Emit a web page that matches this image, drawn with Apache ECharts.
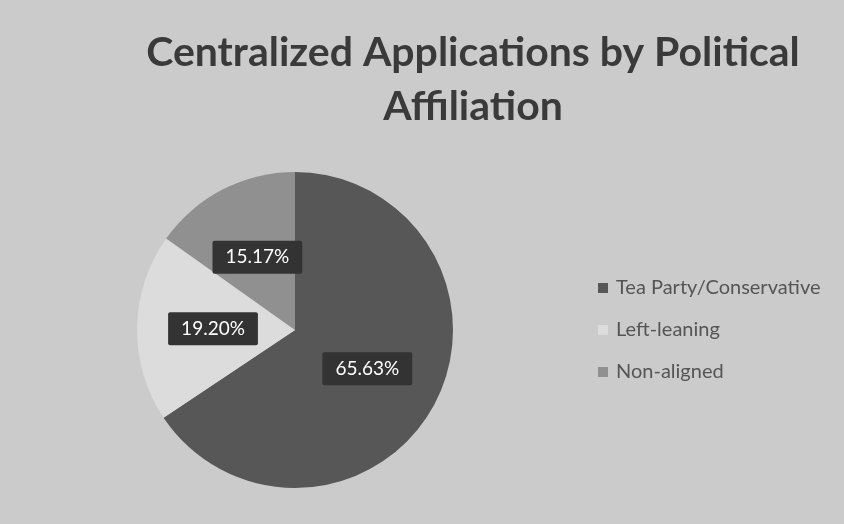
<!DOCTYPE html>
<html>
<head>
<meta charset="utf-8">
<script src="https://cdn.jsdelivr.net/npm/echarts@6/dist/echarts.min.js"></script>
<style>
  html, body { margin: 0; padding: 0; background: #cbcbcb; }
  #chart { width: 844px; height: 524px; }
</style>
</head>
<body>
<div id="chart"></div>
<script>
// slice names and their shares (percent)
const categories = ['Tea Party/Conservative', 'Left-leaning', 'Non-aligned']
const shares = [65.63, 19.20, 15.17]
const sliceColors = ['#575757', '#dcdcdc', '#909090']

const chart = echarts.init(document.getElementById('chart'))

const option = {
  backgroundColor: '#cbcbcb',
  animation: false,
  title: {
    text: 'Centralized Applications by Political\nAffiliation',
    left: 468,
    textAlign: 'center',
    top: 21,
    textStyle: {
      fontFamily: 'Lato',
      fontWeight: 'bold',
      fontSize: 41,
      lineHeight: 54,
      color: '#3a3a3a',
    },
  },
  legend: {
    orient: 'vertical',
    left: 593,
    top: 273,
    itemWidth: 10,
    itemHeight: 10,
    itemGap: 22,
    icon: 'rect',
    textStyle: {
      fontFamily: 'Lato',
      fontSize: 20,
      color: '#555555',
      padding: [0, 0, 0, 3],
    },
    data: categories,
  },
  series: [
    {
      type: 'pie',
      center: [295, 330],
      radius: 158,
      startAngle: 90,
      clockwise: true,
      data: categories.map((name, i) => ({
        name,
        value: shares[i],
        itemStyle: { color: sliceColors[i] },
      })),
      label: {
        show: true,
        position: 'inside',
        formatter: (p) => p.value.toFixed(2) + '%',
        fontFamily: 'Lato',
        fontSize: 19,
        color: '#ffffff',
        backgroundColor: '#333333',
        padding: [7, 13],
        borderRadius: 2,
      },
      labelLine: { show: false },
      emphasis: { disabled: true },
    },
  ],
}

chart.setOption(option)
</script>
</body>
</html>
